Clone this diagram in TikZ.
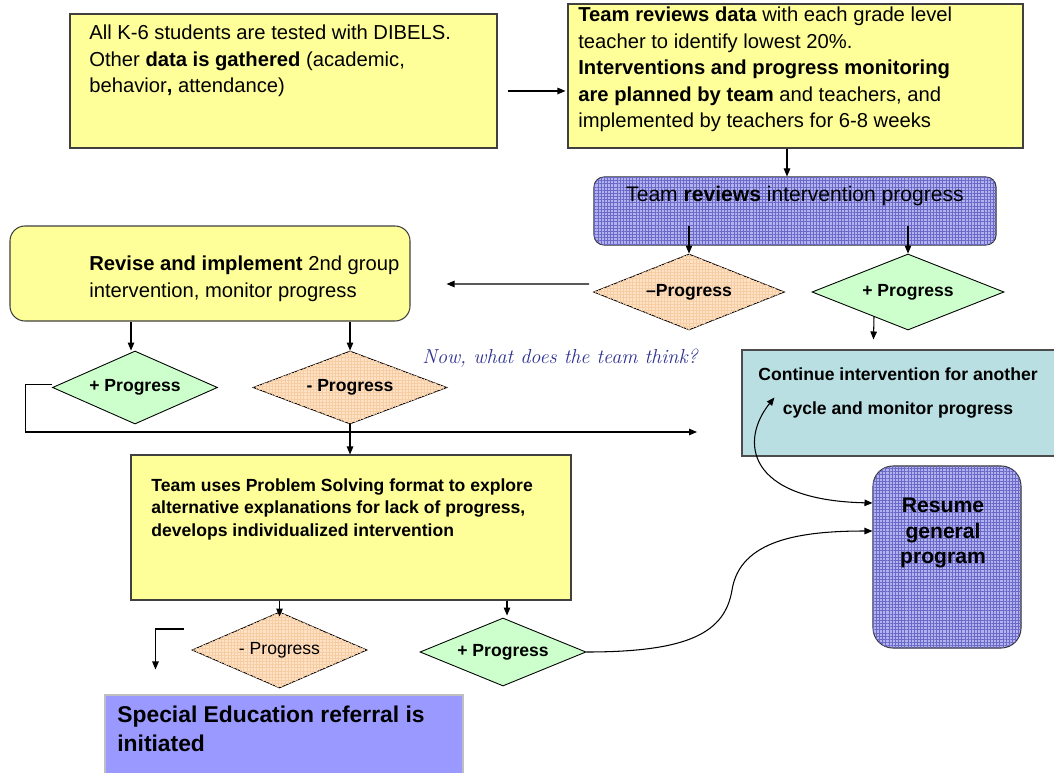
\documentclass[tikz,border=0pt]{standalone}
\usepackage{fontspec}
\setsansfont{Liberation Sans}
\renewcommand{\familydefault}{\sfdefault}
\usepackage{tikz}
\usetikzlibrary{shapes.geometric,arrows.meta,patterns.meta,calc}
\definecolor{boxyellow}{HTML}{FFFF99}
\definecolor{boxblue}{HTML}{B2B2F0}
\definecolor{gridblue}{HTML}{6A6AC6}
\definecolor{diaorange}{HTML}{FFE2C6}
\definecolor{gridorange}{HTML}{F6CCA2}
\definecolor{diagreen}{HTML}{CCFFCC}
\definecolor{boxteal}{HTML}{B9DFE2}
\definecolor{refblue}{HTML}{9999FF}
\definecolor{handblue}{HTML}{2E3192}

\begin{document}
\begin{tikzpicture}[x=0.2mm,y=-0.2mm,
    ybox/.style={draw=black!75, fill=boxyellow, line width=0.6pt},
    bbox/.style={draw=black!80, fill=boxblue, line width=0.6pt,
        postaction={pattern={Hatch[distance=1.8pt,line width=0.25pt]}, pattern color=gridblue}},
    cbox/.style={draw=black!70, fill=boxteal, line width=0.6pt},
    kbox/.style={draw=black!25, fill=refblue, line width=0.6pt},
    odia/.style={diamond, aspect=3, inner sep=0pt, draw=black, line width=0.5pt, fill=diaorange,
        postaction={pattern={Hatch[distance=1.8pt,line width=0.2pt]}, pattern color=gridorange}},
    gdia/.style={diamond, aspect=3, inner sep=0pt, draw=black, line width=0.5pt, fill=diagreen},
    txt/.style={anchor=north west, inner sep=0pt, align=left},
    arr/.style={-{Triangle[length=1.6mm,width=1.3mm]}, line width=0.6pt},
    dia font/.style={font=\bfseries\fontsize{10}{12}\selectfont}]

%draw background
    \fill[white] (0,0) rectangle (1054,772);
    \useasboundingbox (0,0) rectangle (1054,772);

%draw boxes
    \node[ybox, minimum width=85.4mm, minimum height=26.8mm] (gather) at (283.5,81) {};
    \node[txt, font=\fontsize{11.5}{15}\selectfont] (gatherTxt) at (89,25)
        {All K-6 students are tested with DIBELS.\\ Other \textbf{data is gathered} (academic,\\ behavior\textbf{,} attendance)};

    \node[ybox, minimum width=91mm, minimum height=28.8mm] (review) at (795.5,76) {};
    \node[txt, font=\fontsize{11.5}{15}\selectfont] (reviewTxt) at (578,7)
        {\textbf{Team reviews data} with each grade level\\ teacher to identify lowest 20\%.\\
         \textbf{Interventions and progress monitoring}\\ \textbf{are planned by team} and teachers, and\\
         implemented by teachers for 6-8 weeks};

    \node[bbox, rounded corners=2mm, minimum width=80.4mm, minimum height=13.6mm] (check) at (795,211) {};
    \node[inner sep=0pt, font=\fontsize{12}{14}\selectfont] (checkTxt) at (795,196)
        {Team \textbf{reviews} intervention progress};

    \node[ybox, rounded corners=3mm, minimum width=80mm, minimum height=19mm] (revise) at (210,273.5) {};
    \node[txt, font=\fontsize{11.5}{15}\selectfont] (reviseTxt) at (89,256)
        {\textbf{Revise and implement} 2nd group\\ intervention, monitor progress};

    \node[cbox, minimum width=63.2mm, minimum height=21.2mm] (cont) at (900,403) {};
    \node[inner sep=0pt, align=center, font=\bfseries\fontsize{10}{19.3}\selectfont] (contTxt) at (898,393)
        {Continue intervention for another\\ cycle and monitor progress};

    \node[bbox, rounded corners=4mm, minimum width=29.6mm, minimum height=36.4mm] (resume) at (947,557) {};
    \node[inner sep=0pt, align=center, font=\bfseries\fontsize{12}{14.7}\selectfont] (resumeTxt) at (943,533)
        {Resume\\ general\\ program};

    \node[ybox, minimum width=88mm, minimum height=29mm] (solve) at (351,527.5) {};
    \node[txt, font=\bfseries\fontsize{10}{12.8}\selectfont] (solveTxt) at (151,478)
        {Team uses Problem Solving format to explore\\ alternative explanations for lack of progress,\\
         develops individualized intervention};

    \node[kbox, minimum width=71.6mm, minimum height=16mm] (sped) at (284,735) {};
    \node[txt, font=\bfseries\fontsize{13}{16.4}\selectfont] (spedTxt) at (117,706)
        {Special Education referral is\\ initiated};

%draw diamonds
    \node[odia, dia font, minimum width=38.2mm, minimum height=15.2mm] (minus1) at (689,292) {--Progress};
    \node[gdia, dia font, minimum width=38.4mm, minimum height=15.2mm] (plus1) at (908,292) {+ Progress};
    \node[gdia, dia font, minimum width=33mm, minimum height=14.6mm] (plus2) at (135,387.5) {+ Progress};
    \node[odia, dia font, minimum width=38.8mm, minimum height=14.6mm] (minus2) at (350,387.5) {- Progress};
    \node[odia, font=\fontsize{10}{12}\selectfont, minimum width=35mm, minimum height=15.2mm] (minus3) at (279.5,650) {- Progress};
    \node[gdia, dia font, minimum width=33.2mm, minimum height=13.6mm] (plus3) at (503,652) {+ Progress};

%draw note
    \node[inner sep=0pt, text=handblue, font=\rmfamily\itshape\fontsize{11.5}{13}\selectfont] (note) at (560,358)
        {Now, what does the team think?};

%draw arrows
    \draw[arr] ($(gather.east)+(10,10)$) -- ($(review.west)+(-2,15)$);
    \draw[arr] ($(review.south)+(-8.5,0)$) -- ($(check.north)+(-8,0)$);
    \draw[arr] ($(check.south -| minus1.north)+(0,-20)$) -- (minus1.north);
    \draw[arr] ($(check.south -| plus1.north)+(0,-20)$) -- (plus1.north);
    \draw[arr] ($(minus1.west)+(-4,-8)$) -- ($(revise.east)+(36,10.5)$);
    \draw[arr] ($(revise.south -| plus2.north)+(-4,0)$) -- ($(plus2.north)+(-4,0)$);
    \draw[arr] (revise.south -| minus2.north) -- (minus2.north);
    \coordinate (skip) at (697,432);
    \draw[arr] ($(plus2.west)+(0,-3)$) -- ++(-27,0) |- (skip);
    \draw[arr] (minus2.south) -- (minus2.south |- solve.north);
    \draw[arr] ($(plus1.south)+(-34,-14)$) -- ($(cont.north west)+(132,-10)$);
    \draw[{Triangle[length=1.6mm,width=1.3mm]}-{Triangle[length=1.6mm,width=1.3mm]}, line width=0.6pt]
        ($(cont.north west)+(33,48)$) .. controls (740,440) and (745,500) .. ($(resume.west)+(0,-54)$);
    \draw[arr] (plus3.east) .. controls (690,652) and (725,632) .. (732,590)
        .. controls (740,540) and (800,531) .. ($(resume.west)+(0,-26)$);
    \draw[arr] ($(solve.south -| minus3.north)$) -- ($(minus3.north)+(0,5)$);
    \draw[arr] ($(solve.south -| plus3.north)+(4,0)$) -- ($(plus3.north)+(4,-2)$);
    \draw[arr] ($(minus3.west)+(-8,-21)$) -| ($(sped.north west)+(51,-25)$);

\end{tikzpicture}
\end{document}
